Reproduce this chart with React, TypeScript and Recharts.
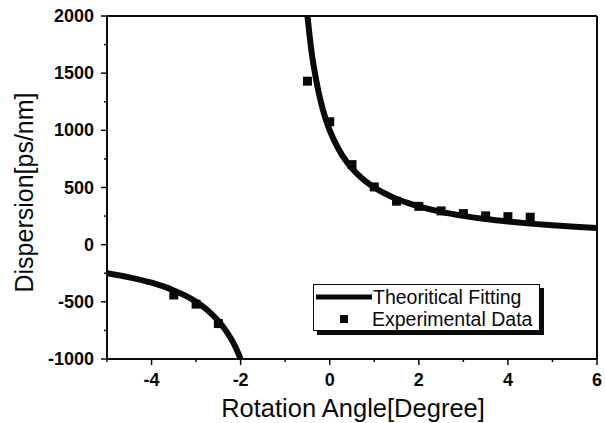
import React from 'react';
import { ComposedChart, Line, Scatter, XAxis, YAxis, ReferenceLine, Legend } from 'recharts';

// fitted curve (two branches either side of the asymptote)
const fitRight = [
  { x: -0.5, y: 2000 }, { x: -0.45, y: 1820 }, { x: -0.4, y: 1665 }, { x: -0.35, y: 1540 },
  { x: -0.3, y: 1430 }, { x: -0.2, y: 1250 }, { x: -0.1, y: 1110 }, { x: 0, y: 1000 },
  { x: 0.2, y: 835 }, { x: 0.4, y: 715 }, { x: 0.6, y: 625 }, { x: 0.8, y: 555 },
  { x: 1.0, y: 500 }, { x: 1.25, y: 445 }, { x: 1.5, y: 400 }, { x: 1.75, y: 365 },
  { x: 2.0, y: 335 }, { x: 2.5, y: 287 }, { x: 3.0, y: 252 }, { x: 3.5, y: 224 },
  { x: 4.0, y: 202 }, { x: 4.5, y: 184 }, { x: 5.0, y: 169 }, { x: 5.5, y: 156 },
  { x: 6.0, y: 145 },
];

const fitLeft = [
  { x: -5, y: -250 }, { x: -4.5, y: -286 }, { x: -4, y: -333 }, { x: -3.5, y: -400 },
  { x: -3.25, y: -444 }, { x: -3, y: -500 }, { x: -2.75, y: -571 }, { x: -2.5, y: -667 },
  { x: -2.35, y: -741 }, { x: -2.2, y: -833 }, { x: -2.1, y: -909 }, { x: -2, y: -1000 },
];

const experimental = [
  { x: -3.5, y: -440 }, { x: -3, y: -520 }, { x: -2.5, y: -690 },
  { x: -0.5, y: 1430 }, { x: 0, y: 1075 }, { x: 0.5, y: 700 }, { x: 1, y: 505 },
  { x: 1.5, y: 380 }, { x: 2, y: 335 }, { x: 2.5, y: 295 }, { x: 3, y: 272 },
  { x: 3.5, y: 252 }, { x: 4, y: 245 }, { x: 4.5, y: 240 },
];

const xTicks = [-5, -4, -3, -2, -1, 0, 1, 2, 3, 4, 5, 6];
const yTicks = [-1000, -750, -500, -250, 0, 250, 500, 750, 1000, 1250, 1500, 1750, 2000];

const FONT = '"Liberation Sans", Arial, sans-serif';
const INK = '#0a0a0a';

const XTick = ({ x, y, payload }: any) => {
  const v = payload.value;
  const major = v % 2 === 0 && v !== -5;
  return (
    <g>
      <line x1={x} x2={x} y1={y} y2={y + (major ? 6 : 3)} stroke={INK} strokeWidth={1.5} />
      {major && (
        <text x={x} y={y + 27} textAnchor="middle" fontFamily={FONT} fontSize={18} fontWeight="bold" fill={INK}>
          {v}
        </text>
      )}
    </g>
  );
};

const YTick = ({ x, y, payload }: any) => {
  const v = payload.value;
  const major = v % 500 === 0;
  return (
    <g>
      <line x1={x - (major ? 6 : 3)} x2={x} y1={y} y2={y} stroke={INK} strokeWidth={1.5} />
      {major && (
        <text x={x - 13} y={y + 6} textAnchor="end" fontFamily={FONT} fontSize={18} fontWeight="bold" fill={INK}>
          {v}
        </text>
      )}
    </g>
  );
};

const XTitle = ({ viewBox }: any) => (
  <text x={viewBox.x + viewBox.width / 2 + 1} y={viewBox.y + 58} textAnchor="middle" fontFamily={FONT} fontSize={25.5} fill={INK}>
    Rotation Angle[Degree]
  </text>
);

const YTitle = ({ viewBox }: any) => {
  const cx = viewBox.x + 33;
  const cy = viewBox.y + viewBox.height / 2 + 5;
  return (
    <text x={cx} y={cy} transform={`rotate(-90 ${cx} ${cy})`} textAnchor="middle" fontFamily={FONT} fontSize={25} fill={INK}>
      Dispersion[ps/nm]
    </text>
  );
};

const Square = ({ cx, cy }: any) => <rect x={cx - 4.5} y={cy - 4.5} width={9} height={9} fill={INK} />;

const LegendBox = () => (
  <div
    style={{
      width: 227,
      height: 47,
      border: `1px solid ${INK}`,
      boxShadow: `4px 4px 0 ${INK}`,
      background: '#fff',
      fontFamily: FONT,
      fontSize: 19.5,
      color: INK,
      boxSizing: 'border-box',
      padding: '1px 0 0 2px',
      whiteSpace: 'nowrap',
    }}
  >
    <div style={{ display: 'flex', alignItems: 'center', height: 22 }}>
      <svg width={56} height={10}>
        <line x1={0} x2={56} y1={5} y2={5} stroke={INK} strokeWidth={5} />
      </svg>
      <span style={{ marginLeft: 1 }}>Theoritical Fitting</span>
    </div>
    <div style={{ display: 'flex', alignItems: 'center', height: 22 }}>
      <svg width={56} height={10}>
        <rect x={24} y={1} width={8} height={8} fill={INK} />
      </svg>
      <span style={{ marginLeft: 0 }}>Experimental Data</span>
    </div>
  </div>
);

export default function App() {
  return (
    <div style={{ position: 'absolute', left: 0, top: 0, background: '#fff' }}>
      <ComposedChart width={605} height={423} margin={{ top: 16, right: 8, bottom: 0, left: 0 }}>
        <XAxis
          type="number"
          dataKey="x"
          domain={[-5, 6]}
          ticks={xTicks}
          interval={0}
          height={64}
          tickSize={0}
          tickMargin={0}
          tick={<XTick />}
          axisLine={{ stroke: INK, strokeWidth: 2 }}
          allowDataOverflow
          label={<XTitle />}
        />
        <YAxis
          type="number"
          domain={[-1000, 2000]}
          ticks={yTicks}
          interval={0}
          width={107}
          tickSize={0}
          tickMargin={0}
          tick={<YTick />}
          axisLine={{ stroke: INK, strokeWidth: 2 }}
          allowDataOverflow
          label={<YTitle />}
        />
        <ReferenceLine y={2000} stroke={INK} strokeWidth={2} />
        <ReferenceLine x={6} stroke={INK} strokeWidth={2} />
        <Line data={fitRight} dataKey="y" type="monotone" stroke={INK} strokeWidth={6} dot={false} isAnimationActive={false} name="Theoritical Fitting" />
        <Line data={fitLeft} dataKey="y" type="monotone" stroke={INK} strokeWidth={6} dot={false} isAnimationActive={false} legendType="none" />
        <Scatter data={experimental} dataKey="y" shape={<Square />} isAnimationActive={false} name="Experimental Data" />
        <Legend
          layout="horizontal"
          verticalAlign="middle"
          align="center"
          content={<LegendBox />}
          wrapperStyle={{ left: 313, top: 284, width: 'auto', height: 'auto' }}
        />
      </ComposedChart>
    </div>
  );
}
